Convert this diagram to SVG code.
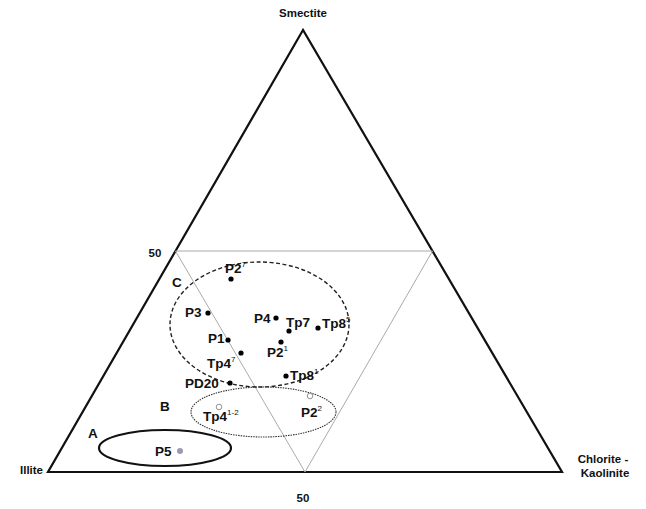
<svg xmlns="http://www.w3.org/2000/svg" width="646" height="509" viewBox="0 0 646 509">
<style>
text{font-family:"Liberation Sans",Arial,sans-serif;font-weight:bold;fill:#111}
.lbl{font-size:13.5px}
.ax{font-size:11.5px}
.sup{font-size:8px;font-weight:normal}
.dot{fill:#000}
.open{fill:#fff;stroke:#777;stroke-width:0.8}
.inner{fill:none;stroke:#aaa;stroke-width:1}
</style>
<rect width="646" height="509" fill="#fff"/>
<g id="connectors">
<polygon points="303,30 48,472 562,472" fill="none" stroke="#111" stroke-width="2.2"/>
<polyline class="inner" points="175.5,251 432.5,251 305,472 175.5,251"/>
</g>
<g id="zoneC"><ellipse cx="259.5" cy="324.5" rx="89.5" ry="62.5" fill="none" stroke="#222" stroke-width="1.4" stroke-dasharray="4,2.5"/></g>
<g id="zoneB"><ellipse cx="263.5" cy="412" rx="72.5" ry="25" fill="none" stroke="#333" stroke-width="1.1" stroke-dasharray="1.5,1"/></g>
<g id="zoneA"><ellipse cx="165" cy="448" rx="66" ry="18" fill="none" stroke="#111" stroke-width="2.2"/></g>
<g id="labels">
<text class="ax" x="303" y="17" text-anchor="middle">Smectite</text>
<text class="ax" x="155" y="257" text-anchor="middle">50</text>
<text class="ax" x="303" y="502" text-anchor="middle">50</text>
<text class="ax" x="20" y="474">Illite</text>
<text class="ax" x="603" y="463" text-anchor="middle">Chlorite -</text>
<text class="ax" x="605" y="477" text-anchor="middle">Kaolinite</text>
<text class="lbl" x="172" y="287">C</text>
<text class="lbl" x="160" y="411">B</text>
<text class="lbl" x="88" y="438">A</text>
</g>
<g id="P2-7"><circle class="dot" cx="231" cy="279" r="2.6"/><text class="lbl" x="225" y="273">P2<tspan class="sup" dy="-6">7</tspan></text></g>
<g id="P3"><circle class="dot" cx="208" cy="313" r="2.6"/><text class="lbl" x="185" y="317">P3</text></g>
<g id="P4"><circle class="dot" cx="276" cy="318" r="2.6"/><text class="lbl" x="254" y="323">P4</text></g>
<g id="Tp7"><circle class="dot" cx="289" cy="331" r="2.6"/><text class="lbl" x="286" y="327">Tp7</text></g>
<g id="Tp8-5"><circle class="dot" cx="318" cy="328" r="2.6"/><text class="lbl" x="322" y="328">Tp8<tspan class="sup" dy="-6">5</tspan></text></g>
<g id="P1"><circle class="dot" cx="228" cy="340" r="2.6"/><text class="lbl" x="208" y="343">P1</text></g>
<g id="P2-1"><circle class="dot" cx="281" cy="342" r="2.6"/><text class="lbl" x="267" y="357">P2<tspan class="sup" dy="-6">1</tspan></text></g>
<g id="Tp4-7"><circle class="dot" cx="241" cy="353" r="2.6"/><text class="lbl" x="207" y="368">Tp4<tspan class="sup" dy="-6">7</tspan></text></g>
<g id="Tp8-1"><circle class="dot" cx="286" cy="376" r="2.6"/><text class="lbl" x="290" y="380">Tp8<tspan class="sup" dy="-6">1</tspan></text></g>
<g id="PD20"><circle class="dot" cx="230" cy="383" r="2.6"/><text class="lbl" x="185" y="388">PD20</text></g>
<g id="Tp4-1-2"><circle class="open" cx="219" cy="407" r="2.8"/><text class="lbl" x="203" y="421">Tp4<tspan class="sup" dy="-6">1-2</tspan></text></g>
<g id="P2-2"><circle class="open" cx="310" cy="396" r="2.8"/><text class="lbl" x="301" y="417">P2<tspan class="sup" dy="-6">2</tspan></text></g>
<g id="P5"><circle cx="180" cy="451" r="3" fill="#9a9ab8"/><text class="lbl" x="155" y="456">P5</text></g>
</svg>
